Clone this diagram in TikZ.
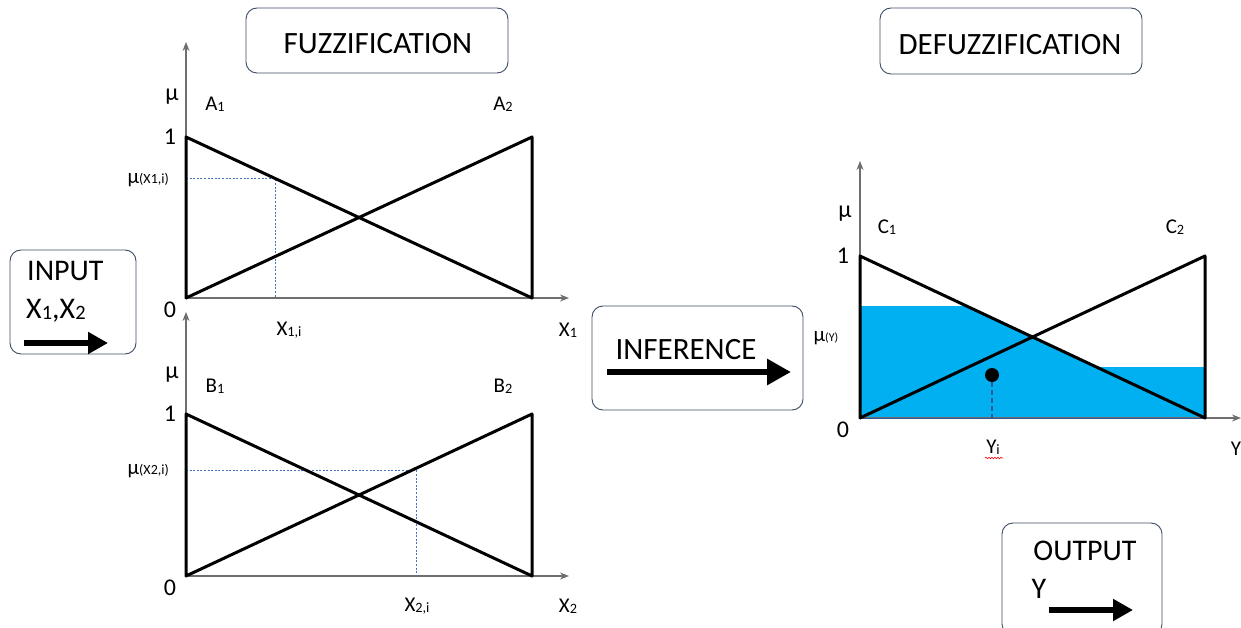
\documentclass[tikz,border=0pt]{standalone}
\usepackage{fontspec}
\setmainfont{Carlito}
\usetikzlibrary{arrows.meta,decorations.pathmorphing}
\definecolor{boxline}{RGB}{60,75,100}
\definecolor{axisgray}{RGB}{110,110,110}
\definecolor{dashblue}{RGB}{68,114,196}
\definecolor{darkdash}{RGB}{47,85,151}
\definecolor{fillcyan}{RGB}{0,176,240}
\newcommand{\lo}[1]{\raisebox{-0.03em}{\scalebox{0.68}{#1}}}
\tikzset{
  stagebox/.style={draw=boxline, line width=0.9pt, rounded corners=11pt, fill=white},
  titletext/.style={font=\fontsize{31}{34}\selectfont, inner sep=0pt},
  boxtext/.style={font=\fontsize{30}{33}\selectfont, inner sep=0pt},
  ticklab/.style={font=\fontsize{24}{27}\selectfont, inner sep=0pt},
  mulab/.style={font=\fontsize{24}{27}\selectfont, inner sep=0pt},
  setlab/.style={font=\fontsize{21}{23}\selectfont, inner sep=0pt},
  axisline/.style={draw=axisgray, line width=1.1pt, -{Stealth[length=9pt,width=7pt]}},
  mfline/.style={draw=black, line width=3pt, line cap=round, line join=round},
  guide/.style={draw=dashblue, line width=0.8pt, dash pattern=on 2pt off 1.6pt},
  fatarrow/.style={draw=black, line width=6pt, -{Triangle[length=20pt,width=21pt]}}
}
\begin{document}
\begin{tikzpicture}[x=1pt,y=-1pt]
\clip (0,0) rectangle (1241,628);
\fill[white] (0,0) rectangle (1241,628);

% ---------- stage boxes ----------
\node[stagebox, minimum width=262pt, minimum height=65pt] (fuzz) at (377,40.5) {};
\node[titletext] (fuzzt) at (378,44) {FUZZIFICATION};
\node[stagebox, minimum width=262pt, minimum height=66pt] (defuzz) at (1011,41) {};
\node[titletext] (defuzzt) at (1010,45) {DEFUZZIFICATION};

\node[stagebox, minimum width=126pt, minimum height=104pt] (input) at (73,302) {};
\node[boxtext, anchor=west] (inputt) at (27,271) {INPUT};
\node[boxtext, anchor=west] (inputx) at (26,311) {X\lo{1},X\lo{2}};
\coordinate (ina) at (24,343);
\coordinate (inb) at (108,343);
\draw[fatarrow] (ina) -- (inb);

\node[stagebox, minimum width=211pt, minimum height=104pt] (infer) at (697.5,358) {};
\node[boxtext, font=\fontsize{31}{34}\selectfont] (infert) at (686,350) {INFERENCE};
\coordinate (ifa) at (607,372);
\coordinate (ifb) at (791,372);
\draw[fatarrow, -{Triangle[length=24pt,width=25pt]}] (ifa) -- (ifb);

\node[stagebox, minimum width=160pt, minimum height=112pt] (output) at (1082,579) {};
\node[boxtext] (outputt) at (1085,551) {OUTPUT};
\node[boxtext] (outputy) at (1039,589) {Y};
\coordinate (oua) at (1049,610);
\coordinate (oub) at (1133,610);
\draw[fatarrow] (oua) -- (oub);

% ---------- top graph (A) ----------
\coordinate (aO) at (186,298);
\coordinate (aYtop) at (186,42);
\coordinate (aXend) at (569,298);
\coordinate (aL1) at (186,137);
\coordinate (aR0) at (532,298);
\coordinate (aR1) at (532,137);
\draw[axisline] (aO) -- (aYtop);
\draw[axisline] (aO) -- (aXend);
\coordinate (aM) at (186,178.4);
\coordinate (aP) at (275,178.4);
\coordinate (aPb) at (275,298);
\draw[guide] (aM) -- (aP) -- (aPb);
\draw[mfline] (aO) -- (aL1) -- (aR0) -- (aR1) -- (aO);
\node[mulab] (amu) at (172,97) {μ};
\node[setlab] (aA1) at (215,104) {A\lo{1}};
\node[setlab] (aA2) at (503,104) {A\lo{2}};
\node[ticklab] (a1) at (170,137) {1};
\node[ticklab] (a0) at (170,310) {0};
\node[setlab, anchor=east] (amux) at (169,180) {μ{\fontsize{14}{15}\selectfont(X1,i)}};
\node[setlab] (ax1i) at (289,330) {X\lo{1,i}};
\node[setlab] (ax1) at (568,330) {X\lo{1}};

% ---------- bottom graph (B) ----------
\coordinate (bO) at (186,576);
\coordinate (bYtop) at (186,312);
\coordinate (bXend) at (569,576);
\coordinate (bL1) at (186,414);
\coordinate (bR0) at (532,576);
\coordinate (bR1) at (532,414);
\draw[axisline] (bO) -- (bYtop);
\draw[axisline] (bO) -- (bXend);
\coordinate (bM) at (186,470);
\coordinate (bP) at (416,470);
\coordinate (bPb) at (416,576);
\draw[guide] (bM) -- (bP) -- (bPb);
\draw[mfline] (bO) -- (bL1) -- (bR0) -- (bR1) -- (bO);
\node[mulab] (bmu) at (172,375) {μ};
\node[setlab] (bB1) at (215,386) {B\lo{1}};
\node[setlab] (bB2) at (503,386) {B\lo{2}};
\node[ticklab] (b1) at (170,414) {1};
\node[ticklab] (b0) at (170,588) {0};
\node[setlab, anchor=east] (bmux) at (169,471) {μ{\fontsize{14}{15}\selectfont(X2,i)}};
\node[setlab] (bx2i) at (417,606) {X\lo{2,i}};
\node[setlab] (bx2) at (568,606) {X\lo{2}};

% ---------- right graph (C) ----------
\coordinate (cO) at (860,418);
\coordinate (cYtop) at (860,161);
\coordinate (cXend) at (1241,418);
\coordinate (cL1) at (860,256);
\coordinate (cR0) at (1205,418);
\coordinate (cR1) at (1205,256);
\fill[fillcyan] (860,418) -- (860,306) -- (966.5,306) -- (1096,367) -- (1205,367) -- (1205,418) -- cycle;
\draw[axisline] (cO) -- (cYtop);
\draw[axisline] (cO) -- (cXend);
\draw[darkdash, line width=1pt] (860,418) -- (1205,418);
\draw[mfline] (cO) -- (cL1) -- (cR0) -- (cR1) -- (cO);
\node[circle, fill=black, minimum size=14pt, inner sep=0pt] (cdot) at (992,375) {};
\coordinate (cdotb) at (992,418);
\draw[darkdash, line width=1.4pt, dash pattern=on 5pt off 3pt] (cdot.south) -- (cdotb);
\node[mulab] (cmu) at (845,214) {μ};
\node[setlab] (cC1) at (887,227) {C\lo{1}};
\node[setlab] (cC2) at (1175,227) {C\lo{2}};
\node[ticklab] (c1) at (843,256) {1};
\node[ticklab] (c0) at (843,430) {0};
\node[setlab] (cmuy) at (826,338) {μ{\fontsize{12}{13}\selectfont(Y)}};
\node[setlab] (cyi) at (993,447) {Y\lo{i}};
\coordinate (wava) at (985,458);
\coordinate (wavb) at (1003,458);
\draw[red, line width=0.6pt, decorate, decoration={snake, amplitude=0.8pt, segment length=3pt}] (wava) -- (wavb);
\node[setlab] (cy) at (1236,449) {Y};
\end{tikzpicture}
\end{document}
